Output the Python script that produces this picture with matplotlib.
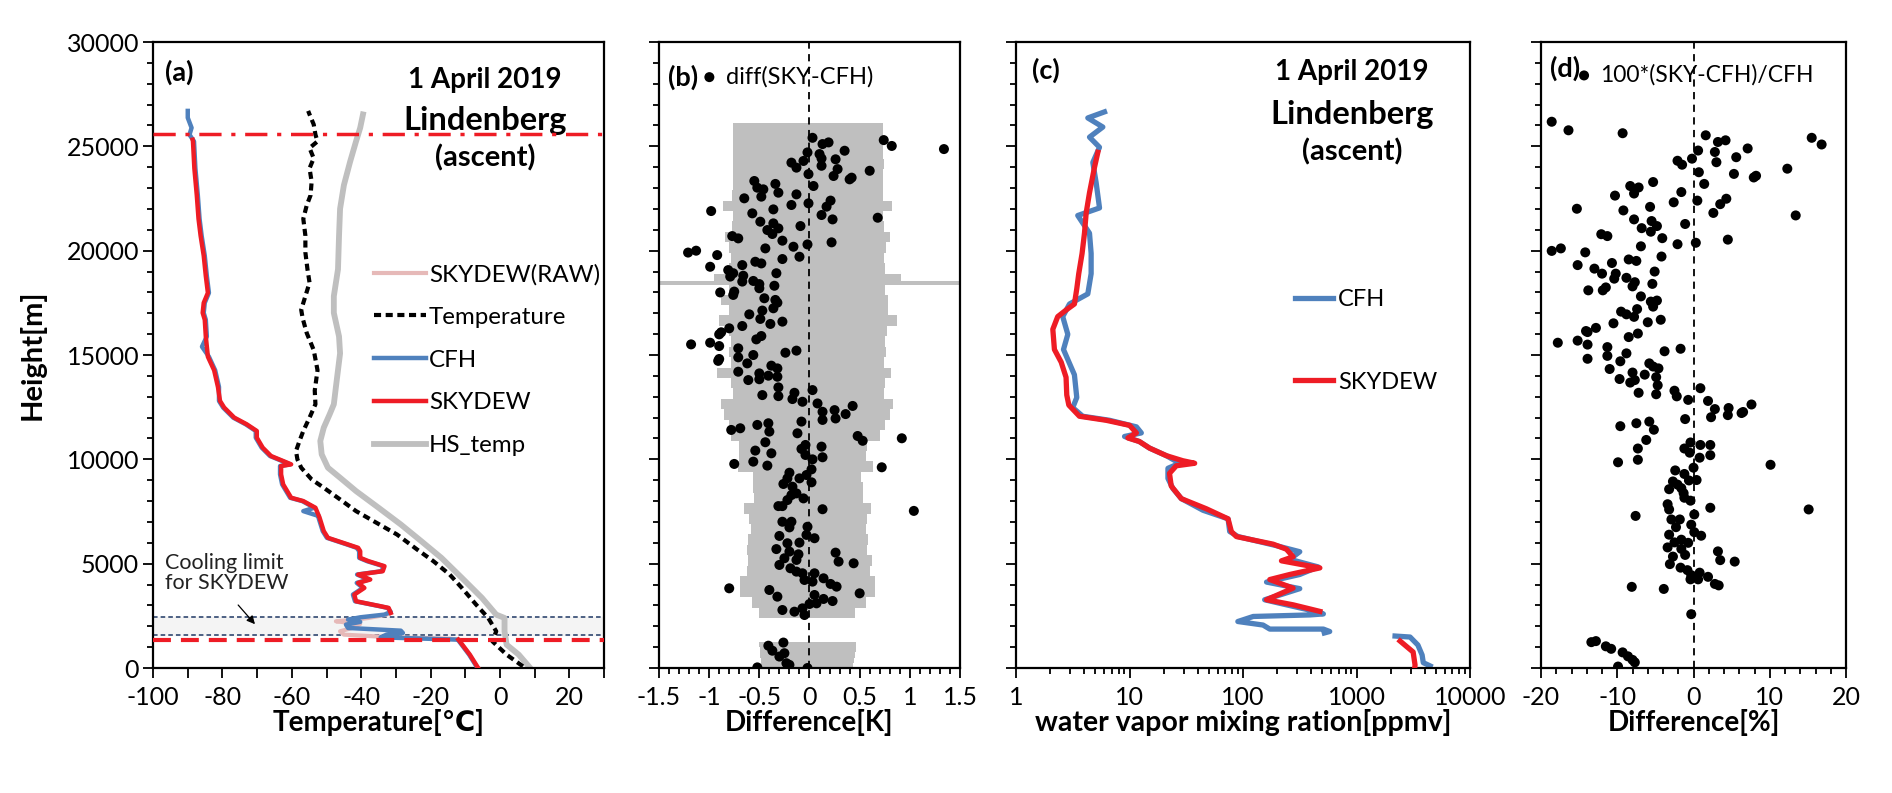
import matplotlib
matplotlib.use('Agg')
import matplotlib.pyplot as plt
import numpy as np
from matplotlib.ticker import MultipleLocator, LogLocator, NullFormatter, FuncFormatter

plt.rcParams['font.family'] = ['Lato', 'DejaVu Sans']

# ---------------- Panel (a) data ----------------
temp_h = [80, 640, 1280, 1760, 2400, 3040, 3840, 4480, 5120, 5680, 6400, 6960, 7520, 8080, 8640, 9040,
          9600, 10000, 10400, 10880, 11360, 12000, 12640, 13300, 14270, 15240, 16050, 16770, 17170, 17820,
          18470, 19110, 19920, 20720, 21530, 22180, 22660, 23310, 23950, 24430, 24920, 25240, 25560, 26050,
          26530, 26700]
temp_T = [6.6, 1.9, -2.2, -1.1, -3.4, -6.9, -11.0, -14.5, -19.2, -23.9, -29.7, -35.6, -41.5, -46.1, -50.8,
          -54.3, -57.3, -58.4, -58.8, -57.8, -56.7, -54.9, -53.2, -53.4, -52.6, -53.7, -55.7, -56.9, -57.3,
          -56.1, -54.9, -55.5, -56.1, -56.1, -56.7, -55.7, -54.6, -54.3, -54.9, -53.7, -54.9, -52.6, -53.2,
          -53.7, -54.9, -55.3]

hs_h = [80, 640, 1120, 1760, 2400, 2560, 3360, 4320, 5280, 6080, 6880, 7680, 8480, 9120, 9600, 10240,
        10880, 11520, 12160, 12640, 13470, 15080, 15890, 17020, 17820, 19110, 20720, 22010, 23140, 24270,
        25240, 25890, 26530]
hs_T = [8.3, 5.4, 1.9, 1.3, 1.3, -1.1, -5.2, -11.0, -16.9, -22.7, -28.6, -35.0, -41.5, -46.1, -49.6, -51.4,
        -51.8, -50.8, -49.1, -47.9, -47.3, -46.1, -46.4, -47.9, -47.9, -46.7, -46.4, -46.1, -45.0, -43.2,
        -41.5, -40.3, -39.5]

sky_h = [0, 640, 1280, 1360, np.nan,
         2640, 2880, 2960, 3200, 3520, 3840, 4080, 4240, 4480, 4640, 4880, 5120, 5280, 5600, 5760, 5920,
         6240, 6560, 7200, 7680, 8000, 8160, 8800, 9280, 9680, 9760, 9920, 10160, 10560, 11040, 11360,
         11680, 12000, 12480, 12800, 13470, 14270, 14920, 15890, 16690, 17020, 17500, 17980, 18790, 19760,
         20720, 21530, 22660, 23950, 25240, 25320]
sky_T = [-6.3, -8.7, -11.6, -12.0, np.nan,
         -31.5, -32.1, -34.4, -41.5, -42.0, -39.1, -40.9, -37.4, -40.9, -33.8, -33.3, -37.9, -40.3, -40.3,
         -40.9, -43.8, -49.6, -50.8, -52.0, -53.2, -56.7, -60.2, -62.5, -63.1, -63.1, -60.2, -62.5, -66.0,
         -68.4, -70.1, -70.1, -73.0, -76.6, -79.5, -80.7, -81.3, -82.4, -84.2, -84.8, -85.1, -85.7, -85.4,
         -84.2, -84.8, -85.4, -86.3, -86.9, -87.4, -88.1, -88.5, -88.6]

cfh_h = [0, 640, 1280, 1360, 1470, 1600, 1680, 1790, 1870, 1920, 2080, 2210, 2320, 2430, 2560, 2690,
         2880, 2960, 3200, 3520, 3840, 4080, 4240, 4480, 4640, 4880, 5120, 5280, 5600, 5760, 5920, 6240,
         6560, 7200, 7280, 7520, 7680, 8000, 8160, 8800, 9280, 9680, 9760, 9920, 10160, 10560, 11040,
         11360, 11680, 12000, 12480, 12800, 13470, 14270, 14920, 15400, 15890, 16690, 17020, 17500, 17980,
         18790, 19760, 20720, 21530, 22660, 23950, 25240, 25560, 25890, 26370, 26700]
cfh_T = [-6.5, -8.9, -11.8, -12.2, -34.4, -32.7, -28.0, -28.6, -37.9, -43.8, -44.4, -40.3, -43.8, -40.3,
         -33.3, -31.5, -32.4, -34.6, -41.8, -42.4, -39.5, -41.3, -37.8, -41.2, -34.1, -33.6, -38.3, -40.6,
         -40.6, -41.3, -44.1, -49.9, -51.1, -52.3, -52.2, -56.7, -53.5, -57.0, -60.5, -62.8, -63.4, -63.4,
         -60.5, -62.8, -66.3, -68.7, -70.4, -70.4, -73.3, -76.9, -79.8, -81.0, -81.0, -82.1, -83.9, -85.9,
         -84.5, -84.8, -85.4, -85.1, -83.9, -84.5, -85.1, -86.0, -86.6, -87.1, -87.8, -88.2, -89.5, -88.9,
         -90.0, -90.0]

raw_h = [1360, 1410, 1470, 1600, 1760, 1920, 2110, 2240, 2320, 2400, 2560, 2640]
raw_T = [-12.0, -14.5, -30.9, -45.0, -46.1, -42.6, -40.3, -47.3, -41.5, -37.9, -32.7, -31.5]

cool_lo, cool_hi = 1570, 2430      # cooling limit band
burst_dash_h = 1360                # red dashed line
top_dashdot_h = 25600              # red dash-dot line

# ---------------- Panel (b) data ----------------
b_diff = [0.03, 0.13, 0.19, 0.35, -0.02, 0.10, 0.12, 0.26, -0.06, -0.18,
          -0.13, 0.12, 0.28, 0.24, -0.01, 0.60, 0.42, 0.40, 0.74, 0.82,
          1.34, -0.55, -0.52, -0.46, -0.34, -0.31, 0.04, -0.13, -0.65, -0.48,
          -0.01, 0.21, 0.17, 0.12, -0.18, -0.36, -0.98, -0.57, 0.23, 0.68,
          -0.49, -0.36, -0.31, -0.42, -0.37, -0.09, -0.77, -0.71, -0.27, -0.16,
          -0.02, 0.22, -1.21, -1.13, -0.44, -0.92, -0.10, -0.27, -0.54, -0.48,
          -0.99, -0.67, -0.81, -0.76, -0.79, -0.33, -0.66, -0.67, -0.56, -0.50,
          -0.50, -0.35, -0.89, -0.75, -0.76, -0.45, -0.34, -0.32, -0.36, -0.47,
          -0.49, -0.60, -0.27, -0.39, -0.67, -0.80, -0.88, -0.90, -0.48, -0.53,
          -1.18, -0.99, -0.90, -0.71, -0.13, -0.24, -0.56, -0.71, -0.90, -0.91,
          -0.62, -0.38, -0.32, -0.71, -0.50, -0.41, -0.32, -0.61, -0.50,
          -0.31, -0.47, -0.31, -0.15, -0.17, -0.07, 0.03, 0.08, 0.13, 0.25,
          0.26, 0.13, 0.43, 0.36, -0.08, -0.12, -0.41, -0.40, -0.52, -0.78,
          -0.69, -0.44, -0.54, -0.38, -0.56, -0.75, -0.42, -0.04, -0.08, -0.04,
          0.03, 0.12, 0.13, 0.48, 0.53, 0.92, 0.72, 0.02, -0.03, -0.10,
          -0.20, -0.22, -0.26, -0.17, -0.13, -0.18, -0.06, 0.02, -0.22, -0.27,
          -0.31, 0.13, 1.04, -0.27, -0.18, -0.20, -0.02, -0.03, 0.05, -0.30,
          -0.22, -0.10, -0.33, -0.20, -0.25, -0.11, -0.13, -0.30, -0.19, -0.13,
          -0.07, -0.05, 0.05, 0.14, 0.21, 0.27, 0.03, 0.26, 0.29, 0.44,
          -0.80, -0.40, -0.32, 0.05, 0.14, 0.23, 0.50, 0.07, 0.00, -0.07,
          -0.05, -0.15, -0.27, -0.41, -0.37, -0.26, -0.30, -0.25, -0.23, -0.20,
          -0.52, -0.02]
b_h = [25410, 25110, 25190, 24790, 24710, 24630, 24420, 24380, 24300, 24220,
       23980, 24070, 23910, 23580, 23670, 23830, 23500, 23420, 25300, 25020,
       24870, 23340, 23020, 22940, 23200, 22780, 23100, 22700, 22510, 22590,
       22270, 22400, 22110, 21710, 22190, 21980, 21900, 21790, 21500, 21580,
       21390, 21310, 21070, 20990, 20800, 21180, 20700, 20590, 20480, 20190,
       20300, 20400, 19910, 20000, 20110, 19790, 19710, 19600, 19470, 19390,
       19230, 19310, 19070, 18920, 18760, 18920, 18800, 18520, 18550, 18400,
       18200, 18320, 18000, 18040, 17880, 17720, 17640, 17510, 17240, 17130,
       16730, 16950, 16600, 16490, 16390, 16280, 16090, 15990, 15910, 15750,
       15510, 15590, 15430, 15320, 15210, 15110, 15000, 14890, 14810, 14720,
       14600, 14490, 14360, 14200, 14120, 14010, 13960, 13800, 13840,
       13450, 13080, 13030, 13190, 12890, 12760, 13320, 12680, 12280, 12360,
       11960, 11890, 12560, 12170, 11810, 11250, 11730, 11330, 11650, 11410,
       11490, 10820, 10420, 10290, 9890, 9780, 9700, 10690, 10500, 10210,
       10000, 10610, 10100, 11120, 10890, 11010, 9620, 9520, 9250, 9090,
       9360, 9090, 8820, 8690, 8370, 8290, 8130, 8900, 8050, 7760,
       7760, 7610, 7530, 7010, 7010, 6740, 6770, 6380, 6220, 6330,
       5980, 6010, 5700, 5580, 5260, 5450, 5180, 4940, 4780, 4620,
       4540, 4220, 4540, 4300, 4030, 3900, 4140, 5530, 5100, 5020,
       3820, 3740, 3420, 3500, 3310, 3210, 3580, 3100, 3070, 2860,
       2540, 2700, 2780, 1070, 830, 1220, 550, 710, 230, 150,
       30, 0]

# uncertainty band (grey bars): lower and upper bounds [K]
unc_h = [2650, 3150, 3650, 4150, 4650, 5150, 5650, 6150, 6650, 7150, 7650, 8150, 8650, 9150, 9650,
         10150, 10650, 11150, 11650, 12150, 12650, 13150, 13650, 14150, 14650, 15150, 15650, 16150,
         16650, 17150, 17650, 18150, 18650, 19150, 19650, 20150, 20650, 21150, 21650, 22150, 22650,
         23150, 23650, 24150, 24650, 25150, 25650, 25880]
unc_lo = [-0.50, -0.57, -0.69, -0.69, -0.62, -0.61, -0.62, -0.61, -0.58, -0.60, -0.65, -0.55, -0.56,
          -0.56, -0.71, -0.70, -0.70, -0.78, -0.80, -0.85, -0.88, -0.76, -0.78, -0.92, -0.78, -0.80,
          -0.78, -0.80, -0.90, -0.80, -0.88, -0.80, -0.95, -0.80, -0.78, -0.80, -0.84, -0.77, -0.76,
          -0.86, -0.77, -0.76, -0.76, -0.76, -0.76, -0.76, -0.76, -0.76]
unc_hi = [0.45, 0.56, 0.65, 0.65, 0.60, 0.62, 0.57, 0.58, 0.56, 0.57, 0.61, 0.53, 0.53, 0.51, 0.63,
          0.56, 0.57, 0.70, 0.75, 0.80, 0.83, 0.74, 0.75, 0.81, 0.74, 0.76, 0.75, 0.77, 0.87, 0.78,
          0.78, 0.75, 0.91, 0.75, 0.74, 0.76, 0.80, 0.74, 0.73, 0.82, 0.73, 0.73, 0.73, 0.74, 0.73,
          0.73, 0.73, 0.73]
unc_low_h = [125, 375, 625, 875, 1125]
unc_low_lo = [-0.48, -0.48, -0.49, -0.49, -0.50]
unc_low_hi = [0.43, 0.44, 0.45, 0.46, 0.46]
spike_h = 18470

# ---------------- Panel (c) data ----------------
c_sky_h = [24715, 23988, 22776, 21807, 20838, 19869, 18899, 18173, 17446, 17155, 16840, 16234, 15265,
           14659, 13932, 13084, 12600, 12066, 11873, 11630, 11267, 11025, 10855, 10540, 10177, 9934,
           9813, 9692, 9329, 8723, 8117, 7632, 7148, 6542, 6300, 5936, 5694, 5331, 5137, 4798, 4483,
           4240, 3828, 3271, 3029, 2714, np.nan, 1294, 767, 144, 0]
c_sky_v = [5.26, 4.91, 4.44, 4.15, 4.01, 3.82, 3.57, 3.43, 3.27, 2.76, 2.33, 2.11, 2.18, 2.50, 2.76,
           2.80, 2.92, 3.62, 6.22, 10.0, 11.5, 9.67, 12.2, 15.0, 21.1, 29.5, 37.5, 25.8, 22.5, 23.3,
           28.6, 47.5, 73.8, 78.9, 87.3, 184, 241, 276, 218, 475, 258, 172, 276, 161, 276, 475, np.nan,
           2416, 3150, 3275, 3250]
c_cfh_h = [26653, 26362, 25926, 25442, 24957, 24230, 23261, 22049, 21686, 20838, 19869, 18899, 17930,
           17446, 16840, 15992, 15265, 14053, 12963, 12479, 12066, 11873, 11558, 11267, 11097, 10855,
           10540, 10177, 9813, 9571, 9086, 8602, 8117, 7560, 7148, 6542, 6300, 5863, 5573, 5210, 4846,
           4483, 4119, 3804, 3271, 3029, 2665, 2592, 2544, 2471, 2229, 2060, 1866, 1866, 1750, 1680,
           np.nan, 1533, 1485, 1102, 623, 256, 100]
c_cfh_v = [6.02, 4.29, 5.82, 4.44, 5.44, 4.75, 5.08, 5.44, 3.50, 4.44, 4.59, 4.59, 4.29, 2.96, 2.58,
           2.86, 2.62, 3.27, 3.43, 3.16, 3.87, 6.66, 11.5, 12.7, 9.04, 12.2, 15.0, 21.1, 27.6, 21.8,
           21.8, 24.1, 28.6, 44.4, 73.8, 76.3, 90.3, 197, 316, 258, 459, 316, 161, 316, 155, 241, 475,
           510, 388, 123, 90, 150, 172, 510, 580, 520, np.nan, 2183, 2960, 3470, 3780, 3870, 4450]

# ---------------- Panel (d) data ----------------
d_diff = [-18.6, -16.4, -9.3, 1.6, 3.2, 4.2, 15.5, 16.8, 7.1, 2.8,
          0.6, 5.6, -0.2, -2.1, -1.5, 3.0, 0.7, 5.3, 8.2, 7.9,
          12.3, 1.4, -8.3, -7.2, -7.8, -5.3, -1.6, -10.3, -2.6, 0.5,
          4.3, 3.5, -15.3, -9.2, -5.7, 2.6, 13.4, -7.8, -5.5, -6.8,
          -4.8, -5.6, -1.1, -4.1, -12.1, -11.3, 4.5, 0.3, -2.1, -6.9,
          -18.6, -17.4, -14.2, -4.2, -8.5, -7.5, -10.7, -15.2, -13.0, -12.0,
          -10.2, -10.4, -5.1, -8.8, -7.7, -8.0, -13.8, -11.9, -11.5, -5.4,
          -6.9, -5.6, -5.3, -4.8, -9.5, -8.8, -7.4, -7.8, -10.5, -6.0,
          -4.3, -14.1, -12.8, -13.9, -8.5, -7.3, -17.8, -15.2, -13.9, -3.8,
          -1.7, -11.3, -11.3, -8.8, -13.9, -9.6, -5.8, -5.3, -4.6, -11.0,
          -8.0, -7.7, -6.4, -9.7, -4.9, -4.7, -8.3, -7.2, -4.9, -2.5,
          -2.2, -0.7, 0.9, 1.9, 2.8, 2.3, 4.6, 4.5, 6.5, 7.6,
          6.3, -1.1, -5.8, -5.2, -9.6, -7.5, -6.2, -7.3, -7.3, -9.9,
          -1.2, -0.4, 0.9, 2.2, 2.2, -0.5, 0.8, 10.1, -2.4, -1.2,
          0.0, -2.7, -2.1, -3.2, -1.3, 0.4, -0.6, -1.6, -3.4, -1.2,
          -0.4, -3.2, 2.2, 15.1, -7.6, -2.9, -1.8, 0.1, -2.3, -0.3,
          0.1, 1.0, -3.2, -2.5, -1.6, -0.7, -3.4, -1.6, -1.1, -2.7,
          3.2, 3.5, 5.4, -3.1, -1.7, -0.8, -0.3, 0.6, -0.4, 0.8,
          1.9, 2.8, 3.3, -8.1, -3.9, -0.3, -13.4, -12.8, -11.5, -10.8,
          -9.3, -8.6, -8.0, -7.7, -9.9]
d_h = [26180, 25770, 25630, 25530, 25210, 25290, 25410, 25090, 24900, 24730,
       24800, 24480, 24410, 24310, 24120, 24240, 23760, 23680, 23590, 23510,
       23930, 23200, 23100, 23030, 22740, 23290, 22810, 22640, 22320, 22400,
       22490, 22230, 22010, 21930, 22100, 21810, 21690, 21500, 21420, 21080,
       21180, 20910, 21280, 20600, 20790, 20700, 20530, 20380, 20310, 20210,
       19990, 20110, 19920, 19720, 19580, 19510, 19410, 19310, 19140, 18900,
       18900, 18660, 19000, 18700, 18490, 18290, 18100, 18100, 18240, 18410,
       17810, 17560, 17320, 17610, 17080, 16950, 17200, 16830, 16520, 16570,
       16690, 16150, 16300, 16100, 15860, 16030, 15590, 15690, 15500, 15180,
       15300, 15380, 14960, 15080, 14820, 14700, 14600, 14450, 14360, 14330,
       14160, 13800, 14060, 13850, 13940, 13550, 13680, 13190, 13120, 13290,
       13020, 12850, 13410, 12800, 12410, 12020, 12460, 12120, 12270, 12630,
       12220, 11930, 11810, 11420, 11590, 11730, 10930, 10520, 9980, 9860,
       10520, 10810, 10690, 10690, 10200, 10320, 10080, 9740, 9470, 9300,
       9600, 8940, 8790, 8570, 8380, 9010, 8990, 8620, 7850, 8160,
       8020, 7600, 7680, 7600, 7290, 7120, 7120, 7360, 6750, 6870,
       6510, 6340, 6390, 6020, 6150, 6000, 5780, 5710, 5420, 5340,
       5590, 5170, 5100, 4980, 4810, 4690, 4450, 4250, 4250, 4570,
       4370, 4030, 3960, 3890, 3790, 2580, 1240, 1290, 1040, 920,
       750, 560, 390, 270, 70]

# ---------------- Styling ----------------
BLUE = '#4F81BD'
RED = '#EE1C25'
GREY = '#BFBFBF'
PINK = '#E6B9B8'
TICK_FS = 18
LAB_FS = 20
PANEL_FS = 19.5
DOT_S = 52
XLPAD = 0

fig = plt.figure(figsize=(18.92, 7.93), dpi=100)
bot, hgt = 0.1576, 0.7894
axa = fig.add_axes([0.0809, bot, 0.2384, hgt])
axb = fig.add_axes([0.3483, bot, 0.1591, hgt])
axc = fig.add_axes([0.5370, bot, 0.2400, hgt])
axd = fig.add_axes([0.8145, bot, 0.1612, hgt])

gfmt = FuncFormatter(lambda v, p: '%g' % v)

for ax in (axa, axb, axc, axd):
    ax.set_ylim(0, 30000)
    ax.yaxis.set_major_locator(MultipleLocator(5000))
    ax.yaxis.set_minor_locator(MultipleLocator(1000))
    ax.tick_params(axis='both', which='major', direction='out', length=7, width=1.3,
                   labelsize=TICK_FS, pad=6)
    ax.tick_params(axis='both', which='minor', direction='out', length=4, width=1.3)
    for s in ax.spines.values():
        s.set_linewidth(1.6)
    if ax is not axa:
        ax.tick_params(axis='y', labelleft=False)

# ---- (a)
axa.set_xlim(-100, 30)
axa.xaxis.set_major_locator(MultipleLocator(20))
axa.xaxis.set_minor_locator(MultipleLocator(10))
axa.tick_params(axis='x', which='minor', length=7)
axa.tick_params(axis='y', which='major', pad=3)
axa.xaxis.set_major_formatter(gfmt)
axa.axhspan(cool_lo, cool_hi, color='#F4F4F4', zorder=0)
axa.axhline(cool_lo, color='#1F3864', lw=1.1, ls=(0, (3, 2)), zorder=1)
axa.axhline(cool_hi, color='#1F3864', lw=1.1, ls=(0, (3, 2)), zorder=1)
axa.plot(raw_T, raw_h, color=PINK, lw=3, zorder=2, label='SKYDEW(RAW)')
axa.plot(hs_T, hs_h, color=GREY, lw=4.2, zorder=2, label='HS_temp')
axa.plot(temp_T, temp_h, color='black', lw=3, ls=(0, (1.7, 1.1)), zorder=3, label='Temperature')
axa.plot(cfh_T, cfh_h, color=BLUE, lw=3.2, zorder=4, label='CFH')
axa.plot(sky_T, sky_h, color=RED, lw=3.2, zorder=5, label='SKYDEW')
axa.axhline(burst_dash_h, color=RED, lw=3, ls=(0, (4.3, 2.4)), zorder=6)
axa.axhline(top_dashdot_h, color=RED, lw=2.5, ls=(0, (6.4, 2.8, 1.2, 2.8)), zorder=6)
hnd, lab = axa.get_legend_handles_labels()
order = ['SKYDEW(RAW)', 'Temperature', 'CFH', 'SKYDEW', 'HS_temp']
hd = dict(zip(lab, hnd))
axa.legend([hd[k] for k in order], order, loc='upper left', bbox_to_anchor=(0.49, 0.646),
           frameon=False, fontsize=17.4, handlelength=2.15, handletextpad=0.12, labelspacing=0.9,
           borderpad=0, borderaxespad=0)
axa.annotate('', xy=(-70.1, 2000), xytext=(-76, 3120),
             arrowprops=dict(arrowstyle='-|>', color='black', lw=0.9, mutation_scale=12), zorder=7)
axa.text(-96.5, 4550, 'Cooling limit\nfor SKYDEW', fontsize=15.5, va='center', ha='left',
         linespacing=1.0, color='#222222')
axa.text(0.027, 0.952, '(a)', transform=axa.transAxes, fontsize=PANEL_FS, fontweight='bold', va='center')
axa.text(0.736, 0.939, '1 April 2019', transform=axa.transAxes, fontsize=20, fontweight='bold',
         ha='center', va='center')
axa.text(0.736, 0.875, 'Lindenberg', transform=axa.transAxes, fontsize=23.5, fontweight='bold',
         ha='center', va='center')
axa.text(0.736, 0.815, '(ascent)', transform=axa.transAxes, fontsize=21, fontweight='bold',
         ha='center', va='center')
axa.set_xlabel('Temperature[\u2103]', fontsize=LAB_FS, fontweight='bold', labelpad=XLPAD)
axa.set_ylabel('Height[m]', fontsize=21, fontweight='bold', labelpad=15)

# ---- (b)
axb.set_xlim(-1.5, 1.5)
axb.xaxis.set_major_locator(MultipleLocator(0.5))
axb.xaxis.set_minor_locator(MultipleLocator(0.1))
axb.xaxis.set_major_formatter(gfmt)
lo = np.array(unc_lo); hi = np.array(unc_hi)
axb.barh(unc_h, hi - lo, left=lo, height=500, color=GREY, zorder=1, linewidth=0)
lo2 = np.array(unc_low_lo); hi2 = np.array(unc_low_hi)
axb.barh(unc_low_h, hi2 - lo2, left=lo2, height=250, color=GREY, zorder=1, linewidth=0)
axb.barh([spike_h], [3.0], left=[-1.5], height=200, color=GREY, zorder=1, linewidth=0)
axb.axvline(0, color='black', lw=1.3, ls=(0, (4, 3)), zorder=2)
axb.scatter(b_diff, b_h, s=DOT_S, color='black', edgecolors='none', zorder=3, label='diff(SKY-CFH)')
axb.legend(loc='upper left', bbox_to_anchor=(0.136, 0.962), frameon=False, fontsize=17,
           handlelength=0.8, handletextpad=0.3, borderpad=0, borderaxespad=0, scatterpoints=1)
axb.text(0.03, 0.944, '(b)', transform=axb.transAxes, fontsize=PANEL_FS, fontweight='bold', va='center')
axb.set_xlabel('Difference[K]', fontsize=LAB_FS, fontweight='bold', labelpad=XLPAD)

# ---- (c)
axc.set_xscale('log')
axc.set_xlim(1, 10000)
axc.xaxis.set_major_locator(LogLocator(base=10, numticks=10))
axc.xaxis.set_minor_locator(LogLocator(base=10, subs=np.arange(2, 10), numticks=20))
axc.xaxis.set_major_formatter(gfmt)
axc.xaxis.set_minor_formatter(NullFormatter())
axc.plot(c_cfh_v, c_cfh_h, color=BLUE, lw=3.8, label='CFH', zorder=2)
axc.plot(c_sky_v, c_sky_h, color=RED, lw=3.8, label='SKYDEW', zorder=3)
axc.legend(loc='upper left', bbox_to_anchor=(0.615, 0.605), frameon=False, fontsize=17,
           handlelength=1.6, handletextpad=0.2, labelspacing=2.6, borderpad=0, borderaxespad=0)
axc.text(0.035, 0.955, '(c)', transform=axc.transAxes, fontsize=PANEL_FS, fontweight='bold', va='center')
axc.text(0.74, 0.952, '1 April 2019', transform=axc.transAxes, fontsize=20, fontweight='bold',
         ha='center', va='center')
axc.text(0.74, 0.885, 'Lindenberg', transform=axc.transAxes, fontsize=23.5, fontweight='bold',
         ha='center', va='center')
axc.text(0.74, 0.824, '(ascent)', transform=axc.transAxes, fontsize=21, fontweight='bold',
         ha='center', va='center')
axc.set_xlabel('water vapor mixing ration[ppmv]', fontsize=20.5, fontweight='bold', labelpad=XLPAD)

# ---- (d)
axd.set_xlim(-20, 20)
axd.xaxis.set_major_locator(MultipleLocator(10))
axd.xaxis.set_minor_locator(MultipleLocator(2))
axd.xaxis.set_major_formatter(gfmt)
axd.axvline(0, color='black', lw=1.3, ls=(0, (4, 3)), zorder=2)
axd.scatter(d_diff, d_h, s=DOT_S, color='black', edgecolors='none', zorder=3, label='100*(SKY-CFH)/CFH')
axd.legend(loc='upper left', bbox_to_anchor=(0.111, 0.965), frameon=False, fontsize=16.5,
           handlelength=0.8, handletextpad=0.3, borderpad=0, borderaxespad=0, scatterpoints=1)
axd.text(0.03, 0.958, '(d)', transform=axd.transAxes, fontsize=PANEL_FS, fontweight='bold', va='center')
axd.set_xlabel('Difference[%]', fontsize=LAB_FS, fontweight='bold', labelpad=XLPAD)

fig.savefig('out.png', dpi=100)
